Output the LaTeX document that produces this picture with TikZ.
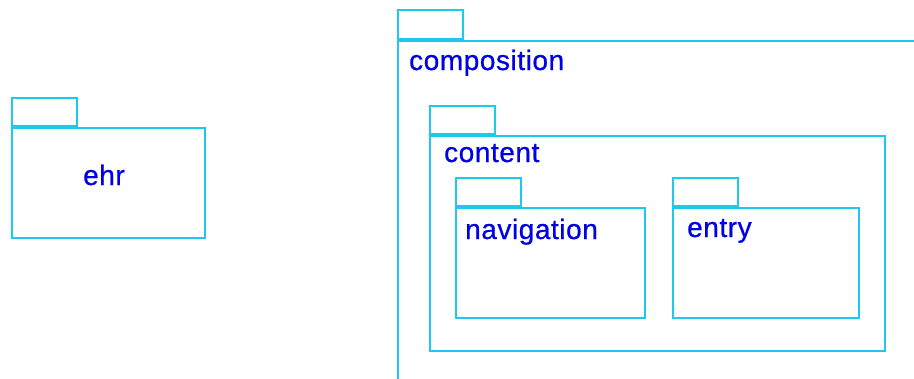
\documentclass[tikz,border=0pt]{standalone}
\usepackage{fontspec}
\setmainfont{Liberation Sans}
\newfontfamily\pkgfont[LetterSpace=2,FakeBold=0.7]{Liberation Sans}
\usetikzlibrary{positioning}
\definecolor{pkgline}{RGB}{30,200,240}
\definecolor{pkgtext}{RGB}{0,0,230}
\tikzset{
  pkgbody/.style={shape=rectangle,draw=pkgline,line width=2pt,anchor=north west,inner sep=0pt},
  pkgtab/.style={shape=rectangle,draw=pkgline,line width=2pt,inner sep=0pt,minimum width=65pt,minimum height=28pt},
  pkgname/.style={text=pkgtext,font=\pkgfont\fontsize{28}{33}\selectfont,inner sep=0pt,anchor=base west}
}
\begin{document}
\begin{tikzpicture}[x=1pt,y=-1pt]
\useasboundingbox (0,0) rectangle (914,378);
\clip (0,0) rectangle (914,378);

\node(ehr)         at (11,127)[pkgbody,minimum width=193pt,minimum height=110pt] {};
\node(composition) at (397,40)[pkgbody,minimum width=540pt,minimum height=360pt] {};
\node(content)     at (429,135)[pkgbody,minimum width=455pt,minimum height=215pt] {};
\node(navigation)  at (455,207)[pkgbody,minimum width=189pt,minimum height=110pt] {};
\node(entry)       at (672,207)[pkgbody,minimum width=186pt,minimum height=110pt] {};

\node(ehrtab)         [pkgtab,above right=0pt and 0pt of ehr.north west] {};
\node(compositiontab) [pkgtab,above right=0pt and 0pt of composition.north west,minimum height=29pt] {};
\node(contenttab)     [pkgtab,above right=0pt and 0pt of content.north west] {};
\node(navigationtab)  [pkgtab,above right=0pt and 0pt of navigation.north west] {};
\node(entrytab)       [pkgtab,above right=0pt and 0pt of entry.north west] {};

\node(ehrname)         at (83,185)[pkgname] {ehr};
\node(compositionname) at (409,70)[pkgname] {composition};
\node(contentname)     at (444,162)[pkgname] {content};
\node(navigationname)  at (465,239)[pkgname] {navigation};
\node(entryname)       at (687,237)[pkgname] {entry};

\end{tikzpicture}
\end{document}
